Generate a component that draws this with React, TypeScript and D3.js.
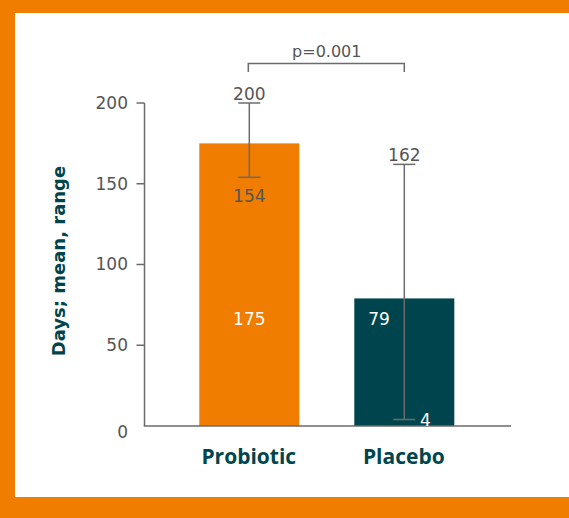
import React from "react";
import * as d3 from "d3";

const categories = ["Probiotic", "Placebo"];
const means = [175, 79];
const rangeLow = [154, 4];
const rangeHigh = [200, 162];
const yTicks = [0, 50, 100, 150, 200];
const barColors = ["#F07D00", "#00454D"];
const pValueLabel = "p=0.001";
const yTitle = "Days; mean, range";

const W = 569;
const H = 518;
const ORANGE = "#F07D00";
const TEAL = "#00454D";
const GRAY = "#6b6b6b";
const NUMFONT = "'DejaVu Sans', sans-serif";
const CATFONT = "'Open Sans', sans-serif";

export default function App() {
  const y = d3.scaleLinear().domain([0, 200]).range([426, 103]);
  const x = d3.scalePoint().domain(categories).range([249.3, 404.3]);
  const bw = 100;
  const xc = (i: number) => x(categories[i]) as number;
  const axisX = 144.5;
  const capW = 22;
  const numSize = 17;

  return (
    <svg width={W} height={H} style={{ position: "absolute", left: 0, top: 0 }} fontFamily={NUMFONT}>
      <rect x={0} y={0} width={W} height={H} fill={ORANGE} />
      <rect x={15} y={13} width={W - 15} height={484} fill="#fff" />

      {categories.map((c, i) => (
        <rect key={c} x={xc(i) - bw / 2} y={y(means[i])} width={bw} height={y(0) - y(means[i])} fill={barColors[i]} />
      ))}

      <line x1={axisX} x2={axisX} y1={y(200)} y2={y(0)} stroke={GRAY} strokeWidth={1.5} />
      <line x1={axisX - 0.75} x2={511} y1={y(0)} y2={y(0)} stroke={GRAY} strokeWidth={1.5} />
      {yTicks.map((t) => (
        <g key={t}>
          {t > 0 && <line x1={axisX - 8} x2={axisX} y1={y(t)} y2={y(t)} stroke={GRAY} strokeWidth={1.5} />}
          <text x={128} y={y(t) + (t === 0 ? 6 : 0)} dy="0.35em" textAnchor="end" fontSize={numSize} fill="#555">
            {t}
          </text>
        </g>
      ))}

      {categories.map((c, i) => (
        <g key={c + "err"} stroke={GRAY} strokeWidth={1.5}>
          <line x1={xc(i)} x2={xc(i)} y1={y(rangeHigh[i])} y2={y(rangeLow[i])} />
          <line x1={xc(i) - capW / 2} x2={xc(i) + capW / 2} y1={y(rangeHigh[i])} y2={y(rangeHigh[i])} />
          <line x1={xc(i) - capW / 2} x2={xc(i) + capW / 2} y1={y(rangeLow[i])} y2={y(rangeLow[i])} />
        </g>
      ))}

      {categories.map((c, i) => (
        <text key={c + "hi"} x={xc(i)} y={y(rangeHigh[i]) - 3} textAnchor="middle" fontSize={numSize} fill="#555">
          {rangeHigh[i]}
        </text>
      ))}
      <text x={xc(0)} y={y(rangeLow[0]) + 25} textAnchor="middle" fontSize={numSize} fill="#555">
        {rangeLow[0]}
      </text>
      <text x={xc(1) + 21} y={y(rangeLow[1]) + 1} dy="0.35em" textAnchor="middle" fontSize={numSize} fill="#fff">
        {rangeLow[1]}
      </text>

      <text x={xc(0)} y={319} dy="0.35em" textAnchor="middle" fontSize={numSize} fill="#fff">
        {means[0]}
      </text>
      <text x={379} y={319} dy="0.35em" textAnchor="middle" fontSize={numSize} fill="#fff">
        {means[1]}
      </text>

      <path d={`M${xc(0) - 1},72 V63.5 H${xc(1)} V72`} fill="none" stroke={GRAY} strokeWidth={1.5} />
      <text x={(xc(0) + xc(1)) / 2} y={57} textAnchor="middle" fontSize={16} fill="#555">
        {pValueLabel}
      </text>

      {categories.map((c, i) => (
        <text key={c + "lab"} x={xc(i) - 0.5} y={457} dy="0.35em" textAnchor="middle" fontSize={21} fontWeight={700} fill={TEAL} fontFamily={CATFONT}>
          {c}
        </text>
      ))}

      <text
        transform={`translate(59,261) rotate(-90)`}
        textAnchor="middle"
        dy="0.35em"
        fontSize={18}
        fontWeight={700}
        fill={TEAL}
      >
        {yTitle}
      </text>
    </svg>
  );
}
